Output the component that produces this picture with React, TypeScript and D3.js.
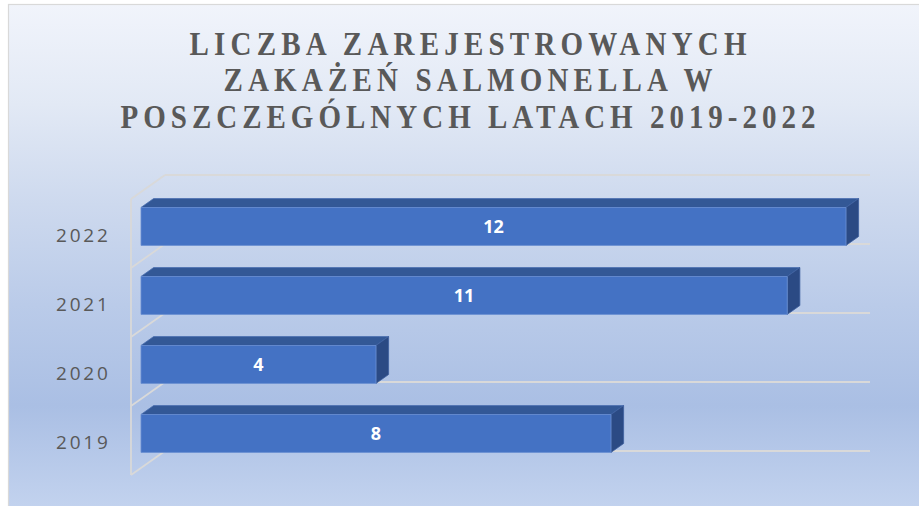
import React from "react";
import * as d3 from "d3";

const categories = ["2019", "2020", "2021", "2022"];
const values = [8, 4, 11, 12];
const titleLines = [
  "LICZBA ZAREJESTROWANYCH",
  "ZAKAŻEŃ SALMONELLA W",
  "POSZCZEGÓLNYCH LATACH 2019-2022",
];
const valueDomain = [0, 12];

const W = 919;
const H = 506;

export default function App() {
  // 3D geometry: back-plane coordinates + depth vector (front = back + depth)
  const backLeft = 165;
  const backTop = 175;
  const backBottom = 451;
  const depthDx = -34;
  const depthDy = 24;

  const xs = d3.scaleLinear().domain(valueDomain).range([0, 705]);
  const order = categories.slice().reverse(); // 2022 at top
  const yb = d3.scaleBand<string>().domain(order).range([backTop, backBottom]).padding(0);
  const step = yb.step();
  const barH = step * 0.55;
  const barOff = (step - barH) / 2;

  // point at value v, back-plane y, depth d (0 = front wall plane, 1 = back wall)
  const P = (v: number, y: number, d: number): [number, number] => [
    backLeft + depthDx * (1 - d) + xs(v),
    y + depthDy * (1 - d),
  ];
  const dFront = 0.294;
  const dBack = 0.665;

  const gridYs = d3.range(categories.length + 1).map((i) => backTop + i * step);

  const poly = (pts: [number, number][]) => pts.map((p) => p.join(",")).join(" ");

  const titleWidths = [557, 489, 695];
  const titleBase = [55, 91, 128];

  return (
    <svg
      width={W}
      height={H}
      style={{ position: "absolute", left: 0, top: 0, display: "block" }}
    >
      <defs>
        <linearGradient id="bg" gradientUnits="userSpaceOnUse" x1="0" y1="4" x2="0" y2="506">
          <stop offset="0" stopColor="#f1f4fb" />
          <stop offset="0.2" stopColor="#e2e9f5" />
          <stop offset="0.4" stopColor="#cdd9ee" />
          <stop offset="0.6" stopColor="#bacbe9" />
          <stop offset="0.8" stopColor="#aabfe4" />
          <stop offset="1" stopColor="#c2d2ee" />
        </linearGradient>
      </defs>
      <rect x={0} y={0} width={W} height={H} fill="#ffffff" />
      <rect x={8.5} y={4.5} width={W + 20} height={H + 20} fill="url(#bg)" stroke="#d9d9d9" strokeWidth={1.2} />

      {titleLines.map((t, i) => (
        <g key={t} transform={`translate(468,${titleBase[i]}) scale(1,1.13)`}>
          <text
            x={0}
            y={0}
            textAnchor="middle"
            fontFamily="'Liberation Serif', 'Times New Roman', serif"
            fontWeight="bold"
            fontSize={29}
            fill="#595959"
            textLength={titleWidths[i]}
            lengthAdjust="spacing"
          >
            {t}
          </text>
        </g>
      ))}

      {/* gridlines: back wall + left wall */}
      <g stroke="#d9d9d9" strokeWidth={1.8} fill="none">
        {gridYs.map((y, i) => {
          const a = P(0, y, 1);
          const b = P(valueDomain[1], y, 1);
          const c = P(0, y, 0);
          return (
            <g key={i}>
              <line x1={a[0]} y1={a[1]} x2={b[0]} y2={b[1]} />
              <line x1={c[0]} y1={c[1]} x2={a[0]} y2={a[1]} />
            </g>
          );
        })}
        <line
          x1={P(0, backTop, 0)[0]}
          y1={P(0, backTop, 0)[1]}
          x2={P(0, backBottom, 0)[0]}
          y2={P(0, backBottom, 0)[1]}
        />
      </g>

      {/* bars */}
      {categories.map((c, i) => {
        const v = values[i];
        const yTop = (yb(c) as number) + barOff;
        const yBot = yTop + barH;
        const f00 = P(0, yTop, dFront);
        const f10 = P(v, yTop, dFront);
        const f11 = P(v, yBot, dFront);
        const f01 = P(0, yBot, dFront);
        const b00 = P(0, yTop, dBack);
        const b10 = P(v, yTop, dBack);
        const b11 = P(v, yBot, dBack);
        return (
          <g key={c}>
            <polygon points={poly([f00, f10, b10, b00])} fill="#335896" stroke="#4a6fb0" strokeWidth={0.8} />
            <polygon points={poly([f10, b10, b11, f11])} fill="#2b4a84" stroke="#3d5f9e" strokeWidth={0.8} />
            <polygon points={poly([f00, f10, f11, f01])} fill="#4472c4" stroke="#6a8fd2" strokeWidth={0.8} />
            <text
              x={(f00[0] + f10[0]) / 2}
              y={(f00[1] + f01[1]) / 2}
              dy="0.36em"
              textAnchor="middle"
              fontFamily="'Open Sans', sans-serif"
              fontWeight={700}
              fontSize={18}
              fill="#ffffff"
            >
              {v}
            </text>
          </g>
        );
      })}

      {/* category labels */}
      {categories.map((c) => {
        const yc = (yb(c) as number) + step / 2 + depthDy + 1.5;
        return (
          <text
            key={c}
            x={56}
            y={yc}
            dy="0.36em"
            fontFamily="'Open Sans', sans-serif"
            fontSize={19}
            letterSpacing={2.8}
            fill="#595959"
          >
            {c}
          </text>
        );
      })}
    </svg>
  );
}
